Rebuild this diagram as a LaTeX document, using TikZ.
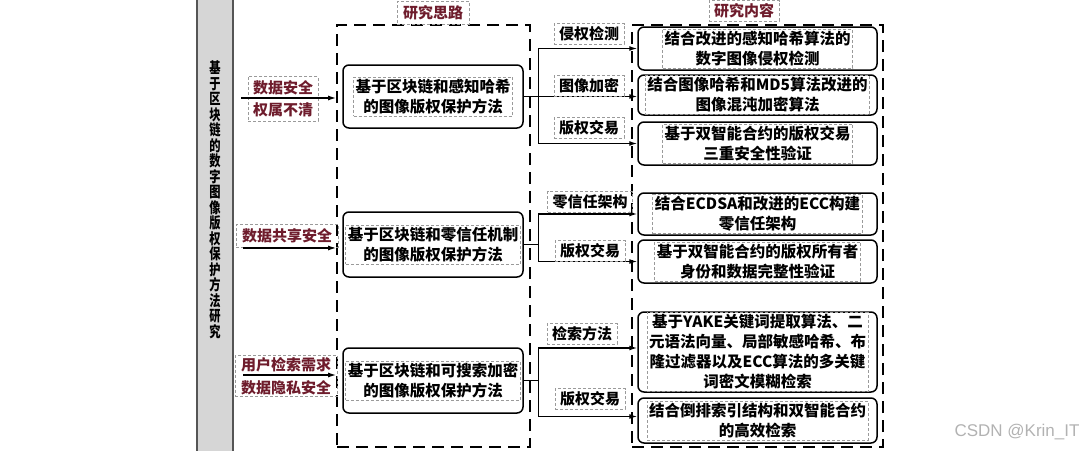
\documentclass[tikz,border=0pt]{standalone}
\usepackage{fontspec}
\newfontfamily\cjk{Noto Sans CJK SC}
\newfontfamily\wmfont{Liberation Sans}
\usetikzlibrary{arrows.meta,calc}
\definecolor{dred}{HTML}{6E1C2C}
\definecolor{dgray}{HTML}{9A9A9A}
\definecolor{barfill}{HTML}{D6D6D6}
\definecolor{barline}{HTML}{555555}
\begin{document}
\begin{tikzpicture}[x=1pt,y=-1pt,
  txt/.style={font=\cjk\bfseries\fontsize{15.5}{20}\selectfont, align=center, inner sep=2pt},
  tbox/.style={txt, draw=dgray, line width=0.8pt, dash pattern=on 3pt off 2pt},
  rlabel/.style={tbox, text=dred, font=\cjk\bfseries\fontsize{15}{22}\selectfont, inner xsep=5pt, inner ysep=4pt},
  blabel/.style={tbox, font=\cjk\bfseries\fontsize{15}{18}\selectfont, inner xsep=5pt, inner ysep=3pt},
  bigbox/.style={draw, line width=1.8pt, dash pattern=on 12pt off 7pt, inner sep=0pt},
  cbox/.style={draw, line width=1.5pt, rounded corners=6pt, inner sep=0pt},
  arr/.style={line width=1.3pt, -{Latex[length=8pt,width=5pt]}},
  ln/.style={line width=1.3pt}
]
\useasboundingbox (0,0) rectangle (1090,450);

% left gray bar
\node[draw=barline, line width=1.6pt, fill=barfill, minimum width=36pt, minimum height=470pt, inner sep=0pt] (bar) at (215,225) {};
\node[font=\cjk\bfseries\fontsize{15}{15.5}\selectfont, align=center, inner sep=0pt, xscale=0.75, transform shape] (title) at (215,200)
  {基\\于\\区\\块\\链\\的\\数\\字\\图\\像\\版\\权\\保\\护\\方\\法\\研\\究};

% big dashed frames
\node[bigbox, minimum width=193pt, minimum height=422pt] (LB) at (433.5,236) {};
\node[bigbox, minimum width=251pt, minimum height=422pt] (RB) at (757.5,236) {};
\node[rlabel, inner xsep=6pt] (T1) at (433,13) {研究思路};
\node[rlabel, inner ysep=3pt] (T2) at (744,11) {研究内容};

% left reason labels
\node[rlabel] (L1) at (283,99) {数据安全\\权属不清};
\node[rlabel, inner xsep=6pt] (L2) at (287,236) {数据共享安全};
\node[rlabel, inner xsep=6pt, font=\cjk\bfseries\fontsize{15}{23}\selectfont, inner ysep=2pt] (L3) at (286,376) {用户检索需求\\数据隐私安全};
\coordinate (a1) at (241,98);
\coordinate (a2) at (243,248);
\coordinate (a3) at (243,375);
\draw[arr] (a1) -- (a1 -| LB.west);
\draw[arr] (a2) -- (a2 -| LB.west);
\draw[arr] (a3) -- (a3 -| LB.west);

% method boxes
\node[cbox, minimum width=180pt, minimum height=63pt] (B1) at (433,96.5) {};
\node[cbox, minimum width=180pt, minimum height=65pt] (B2) at (433,244.5) {};
\node[cbox, minimum width=180pt, minimum height=65pt] (B3) at (433,380.5) {};
\node[tbox] (B1t) at (B1) {基于区块链和感知哈希\\的图像版权保护方法};
\node[tbox] (B2t) at (B2) {基于区块链和零信任机制\\的图像版权保护方法};
\node[tbox] (B3t) at (B3) {基于区块链和可搜索加密\\的图像版权保护方法};

% content boxes
\node[cbox, minimum width=239pt, minimum height=43pt] (R1) at (757.5,48.5) {};
\node[cbox, minimum width=239pt, minimum height=40pt] (R2) at (757.5,95) {};
\node[cbox, minimum width=239pt, minimum height=43pt] (R3) at (757.5,143.5) {};
\node[cbox, minimum width=239pt, minimum height=42pt] (R4) at (757.5,214) {};
\node[cbox, minimum width=239pt, minimum height=43pt] (R5) at (757.5,261.5) {};
\node[cbox, minimum width=239pt, minimum height=80pt] (R6) at (757.5,352) {};
\node[cbox, minimum width=239pt, minimum height=45pt] (R7) at (757.5,420.5) {};
\node[tbox] (R1t) at (R1) {结合改进的感知哈希算法的\\数字图像侵权检测};
\node[tbox] (R2t) at (R2) {结合图像哈希和MD5算法改进的\\图像混沌加密算法};
\node[tbox] (R3t) at (R3) {基于双智能合约的版权交易\\三重安全性验证};
\node[tbox] (R4t) at (R4) {结合ECDSA和改进的ECC构建\\零信任架构};
\node[tbox] (R5t) at (R5) {基于双智能合约的版权所有者\\身份和数据完整性验证};
\node[tbox] (R6t) at (R6) {基于YAKE关键词提取算法、二\\元语法向量、局部敏感哈希、布\\隆过滤器以及ECC算法的多关键\\词密文模糊检索};
\node[tbox] (R7t) at (R7) {结合倒排索引结构和双智能合约\\的高效检索};

% branches
\coordinate (j1) at ($(B1.east)+(15,0)$);
\coordinate (j2) at ($(B2.east)+(15,0)$);
\coordinate (j3) at ($(B3.east)+(15,0)$);
\draw[ln] (B1.east) -- (j1);
\draw[arr] (j1) |- (R1.west);
\draw[arr] (B1.east) -- (B1.east -| R2.west);
\draw[arr] (j1) |- (R3.west);
\draw[ln] (B2.east) -- (j2);
\draw[arr] (j2) |- (R4.west);
\draw[arr] (j2) |- (R5.west);
\draw[ln] (B3.east) -- (j3);
\draw[arr] (j3) |- ([yshift=4pt]R6.west);
\draw[arr] (j3) |- ([yshift=4pt]R7.west);

% branch labels
\node[blabel] (E1) at (589,34) {侵权检测};
\node[blabel] (E2) at (589,86) {图像加密};
\node[blabel] (E3) at (589,128) {版权交易};
\node[blabel] (E4) at (590,202) {零信任架构};
\node[blabel] (E5) at (590,251) {版权交易};
\node[blabel] (E6) at (582,334) {检索方法};
\node[blabel] (E7) at (590,399) {版权交易};

% watermark
\node[font=\wmfont\fontsize{17}{20}\selectfont, text=black!30, inner sep=0pt] (wm) at (1017,432) {CSDN @Krin\_IT};
\end{tikzpicture}
\end{document}
